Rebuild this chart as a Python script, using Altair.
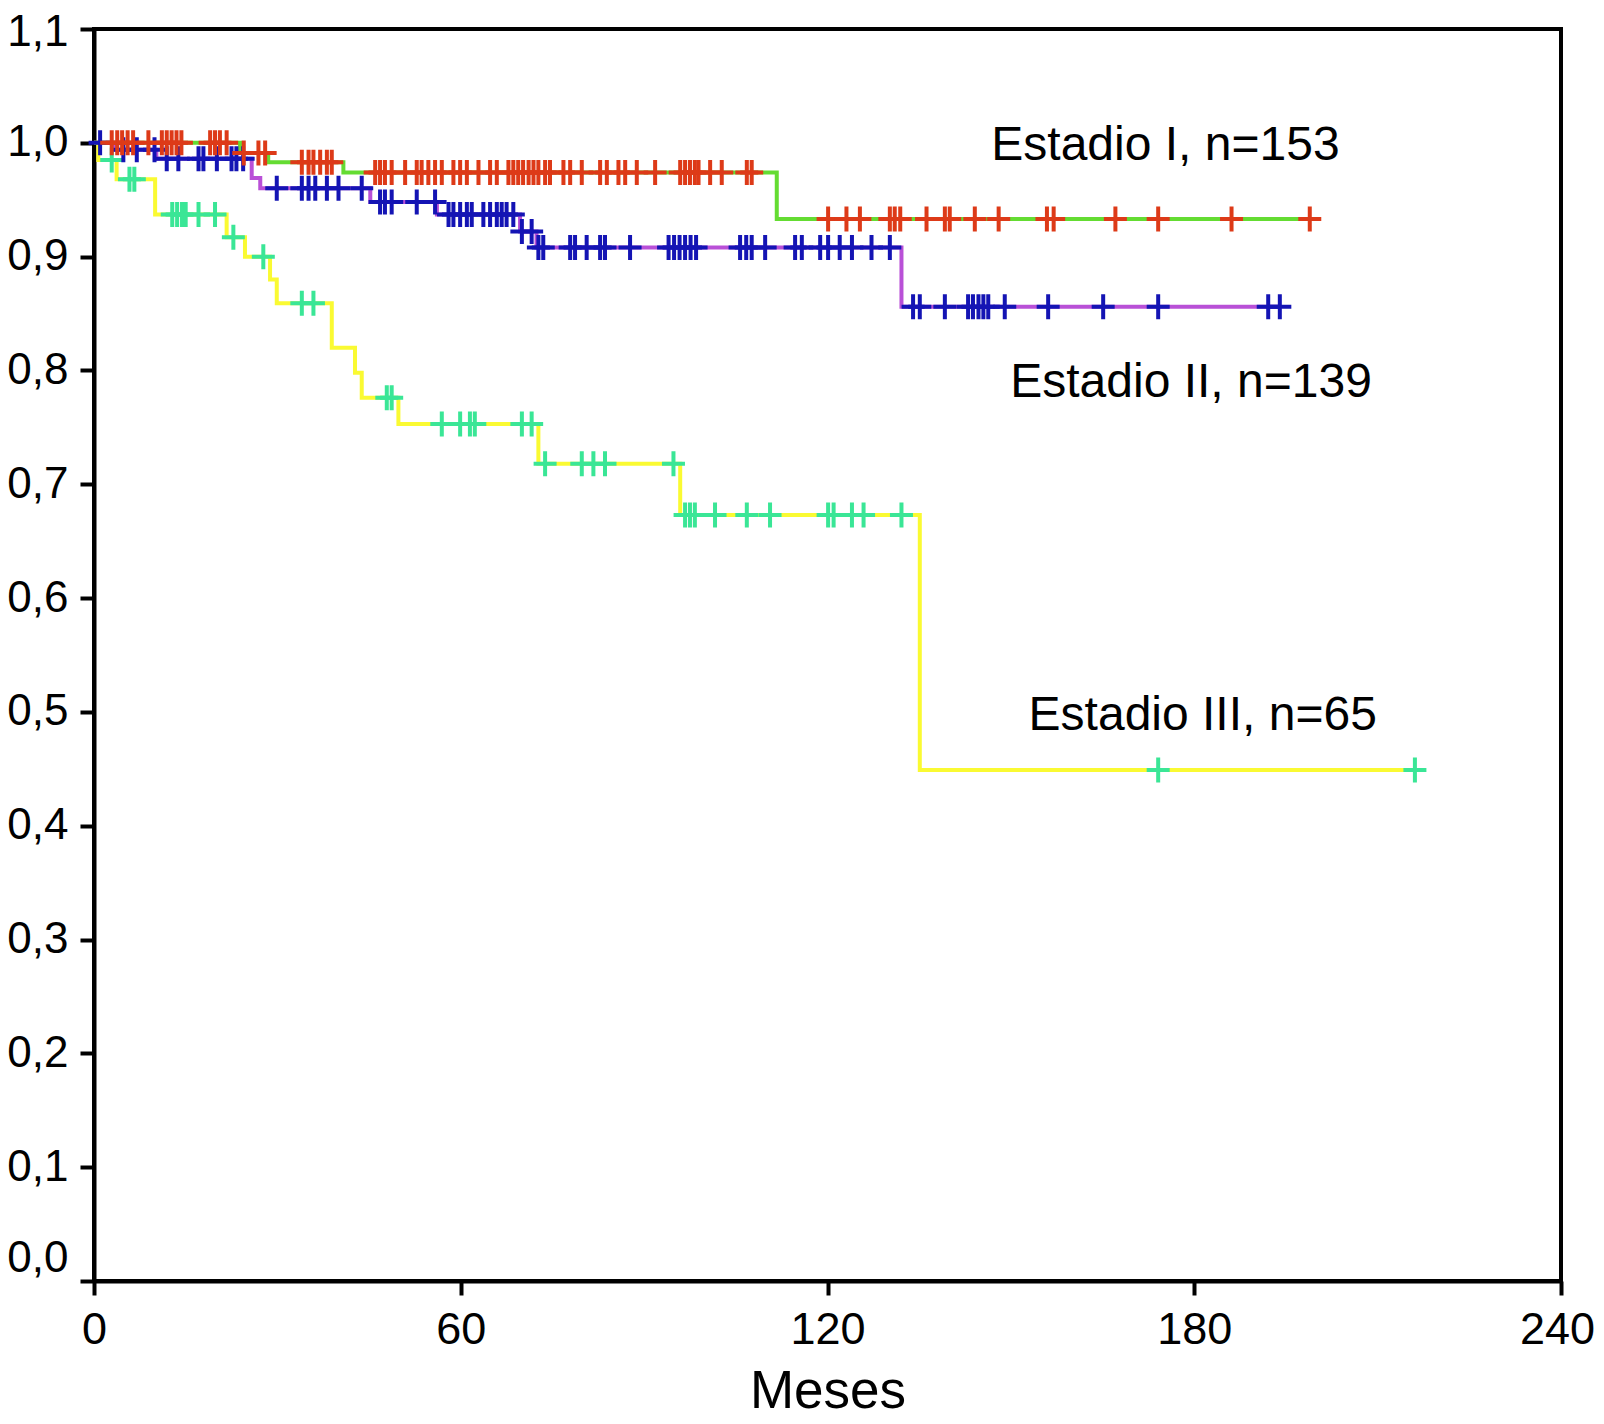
import altair as alt
import pandas as pd

# ---------------- data ----------------
stages = ["Estadio III", "Estadio II", "Estadio I"]

# Estadio I  (n=153)
s1_step_t = [0, 23.9, 28.5, 40.8, 111.7]
s1_step_s = [1.0, 0.991, 0.983, 0.974, 0.933]
s1_end_t = 198.9
s1_cens = [2.9, 3.8, 4.6, 5.5, 6.4, 8.9, 11.1, 11.9, 12.7, 13.5, 14.3,
           19.0, 19.8, 20.6, 21.7,
           24.5, 26.9, 28.0,
           34.0, 35.1, 35.9, 37.0, 38.1, 38.9,
           46.0, 46.8, 47.6, 48.7, 50.9, 52.8, 53.6, 54.7, 55.8, 56.9, 58.8,
           59.9, 61.0, 62.9, 64.8, 65.9, 67.8, 68.6, 69.4, 70.2, 71.1, 71.9,
           72.7, 73.8, 74.6, 76.8, 77.9, 79.8, 82.8, 83.9, 85.8, 86.9, 88.8,
           91.8, 95.9, 96.7, 97.5, 98.3, 98.9, 100.8, 102.7, 106.8, 107.6,
           120.1, 123.1, 125.3, 130.2, 131.0, 131.9, 136.2, 139.2, 140.0,
           144.1, 148.0, 155.9, 157.0, 167.1, 174.1, 186.1, 198.9]

# Estadio II  (n=139)
s2_step_t = [0, 3.4, 10.2, 25.8, 27.2, 45.2, 56.1, 69.7, 72.4, 132.1]
s2_step_s = [1.0, 0.994, 0.986, 0.969, 0.960, 0.948, 0.937, 0.922, 0.908, 0.856]
s2_end_t = 194.0
s2_cens = [1.0, 4.8, 7.0, 9.9,
           11.9, 13.8, 17.1, 17.9, 20.1, 22.5, 23.3, 24.4,
           29.9, 34.0, 35.1, 36.2, 38.1, 40.0, 43.8,
           46.8, 47.6, 48.7, 52.8, 55.8,
           58.0, 58.8, 59.9, 61.0, 61.8, 63.7, 64.8, 65.9, 66.7, 67.5, 68.6,
           70.0, 71.6,
           72.7, 73.5, 77.9, 78.7, 80.6, 82.8, 83.6, 87.7, 94.0, 94.9, 95.8,
           96.7, 97.6, 98.5, 105.7, 106.7, 107.6, 109.8, 114.7, 115.8, 118.8,
           120.1, 122.0, 124.0, 127.2, 130.2,
           134.0, 135.1, 139.2, 143.0, 143.8, 144.7, 145.5, 146.3, 149.0,
           156.1, 165.1, 174.1, 192.1, 194.0]

# Estadio III  (n=65)
s3_step_t = [0, 0.7, 3.7, 10.0, 21.7, 24.7, 28.8, 29.9, 38.9, 42.7, 43.8,
             49.8, 72.7, 95.9, 135.1]
s3_step_s = [1.0, 0.985, 0.968, 0.937, 0.917, 0.900, 0.880, 0.859, 0.820,
             0.798, 0.776, 0.753, 0.718, 0.673, 0.449]
s3_end_t = 216.1
s3_cens = [2.9, 5.8, 6.6, 12.8, 13.6, 14.4, 15.0, 17.1, 19.8, 22.8, 27.7,
           34.0, 35.9, 47.9, 48.7, 56.9, 59.9, 61.5, 62.3, 70.0, 71.6,
           73.8, 79.8, 81.7, 83.6, 94.8,
           96.7, 97.5, 98.3, 101.6, 106.8, 110.6, 120.1, 121.0, 124.0, 125.9,
           132.1, 174.1, 216.1]

label_texts = ["Estadio I, n=153", "Estadio II, n=139", "Estadio III, n=65"]
label_t = [146.8, 149.9, 152.9]
label_s = [0.985, 0.777, 0.484]

x_ticks = [0, 60, 120, 180, 240]
y_ticks = [0, 0.1, 0.2, 0.3, 0.4, 0.5, 0.6, 0.7, 0.8, 0.9, 1.0, 1.1]

line_colors = ["#FAFA32", "#B950D7", "#64DC32"]
mark_colors = ["#3AE696", "#1414B4", "#DD3A18"]

# ---------------- tables ----------------
series = {
    "Estadio I": (s1_step_t, s1_step_s, s1_end_t, s1_cens),
    "Estadio II": (s2_step_t, s2_step_s, s2_end_t, s2_cens),
    "Estadio III": (s3_step_t, s3_step_s, s3_end_t, s3_cens),
}


def level_at(t, st, ss):
    lv = ss[0]
    for a, b in zip(st, ss):
        if a <= t:
            lv = b
    return lv


line_rows, mark_rows = [], []
for name in stages:
    st, ss, end_t, cens = series[name]
    for a, b in zip(st, ss):
        line_rows.append({"t": a, "s": b, "stage": name})
    line_rows.append({"t": end_t, "s": ss[-1], "stage": name})
    for c in cens:
        mark_rows.append({"t": c, "s": level_at(c, st, ss), "stage": name})

lines_df = pd.DataFrame(line_rows)
marks_df = pd.DataFrame(mark_rows)
labels_df = pd.DataFrame({"text": label_texts, "t": label_t, "s": label_s})

FONT = "Liberation Sans"

xscale = alt.Scale(domain=[0, 240], nice=False, zero=False)
yscale = alt.Scale(domain=[0, 1.1], nice=False, zero=False)

x_axis = alt.Axis(values=x_ticks, labelFlush=False, labelFontSize=45,
                  labelPadding=12, title="Meses", titleFontSize=53,
                  titleFontWeight="normal", titlePadding=13, grid=False,
                  labelOverlap=False,
                  labelOffset={"condition": {"test": "datum.value == 240", "value": -4}, "value": 0})
y_axis = alt.Axis(values=y_ticks, labelFontSize=44, labelPadding=12,
                  labelExpr="replace(format(datum.value, '.1f'), '.', ',')",
                  labelOffset={"condition": [
                      {"test": "datum.value == 0", "value": -23},
                      {"test": "datum.value > 1.05", "value": 3}], "value": 0},
                  grid=False, labelOverlap=False)

lines = alt.Chart(lines_df).mark_line(
    interpolate="step-after", strokeWidth=4, strokeCap="butt"
).encode(
    x=alt.X("t:Q", scale=xscale, axis=x_axis),
    y=alt.Y("s:Q", scale=yscale, axis=y_axis, title=None),
    color=alt.Color("stage:N", scale=alt.Scale(domain=stages, range=line_colors), legend=None),
)

cross = "M-0.92,0H0.92M0,-1V1"
marks = alt.Chart(marks_df).mark_point(
    shape=cross, filled=False, strokeWidth=4, size=625, opacity=1
).encode(
    x="t:Q",
    y="s:Q",
    stroke=alt.Stroke("stage:N", scale=alt.Scale(domain=stages, range=mark_colors), legend=None),
)

texts = alt.Chart(labels_df).mark_text(
    align="left", baseline="alphabetic", font=FONT, fontSize=48, color="black"
).encode(
    x="t:Q",
    y="s:Q",
    text="text:N",
)

chart = alt.layer(lines, marks, texts).properties(
    width=1467,
    height=1252,
    autosize=alt.AutoSizeParams(type="none"),
    padding={"left": 86, "top": 21, "right": 34, "bottom": 131},
    background="white",
).configure_view(
    stroke="black", strokeWidth=4
).configure_axis(
    domainColor="black", domainWidth=4, tickColor="black", tickWidth=4,
    tickSize=14, labelColor="black", titleColor="black",
    labelFont=FONT, titleFont=FONT,
)

chart.save("out.html", embed_options={"renderer": "svg", "actions": False})
